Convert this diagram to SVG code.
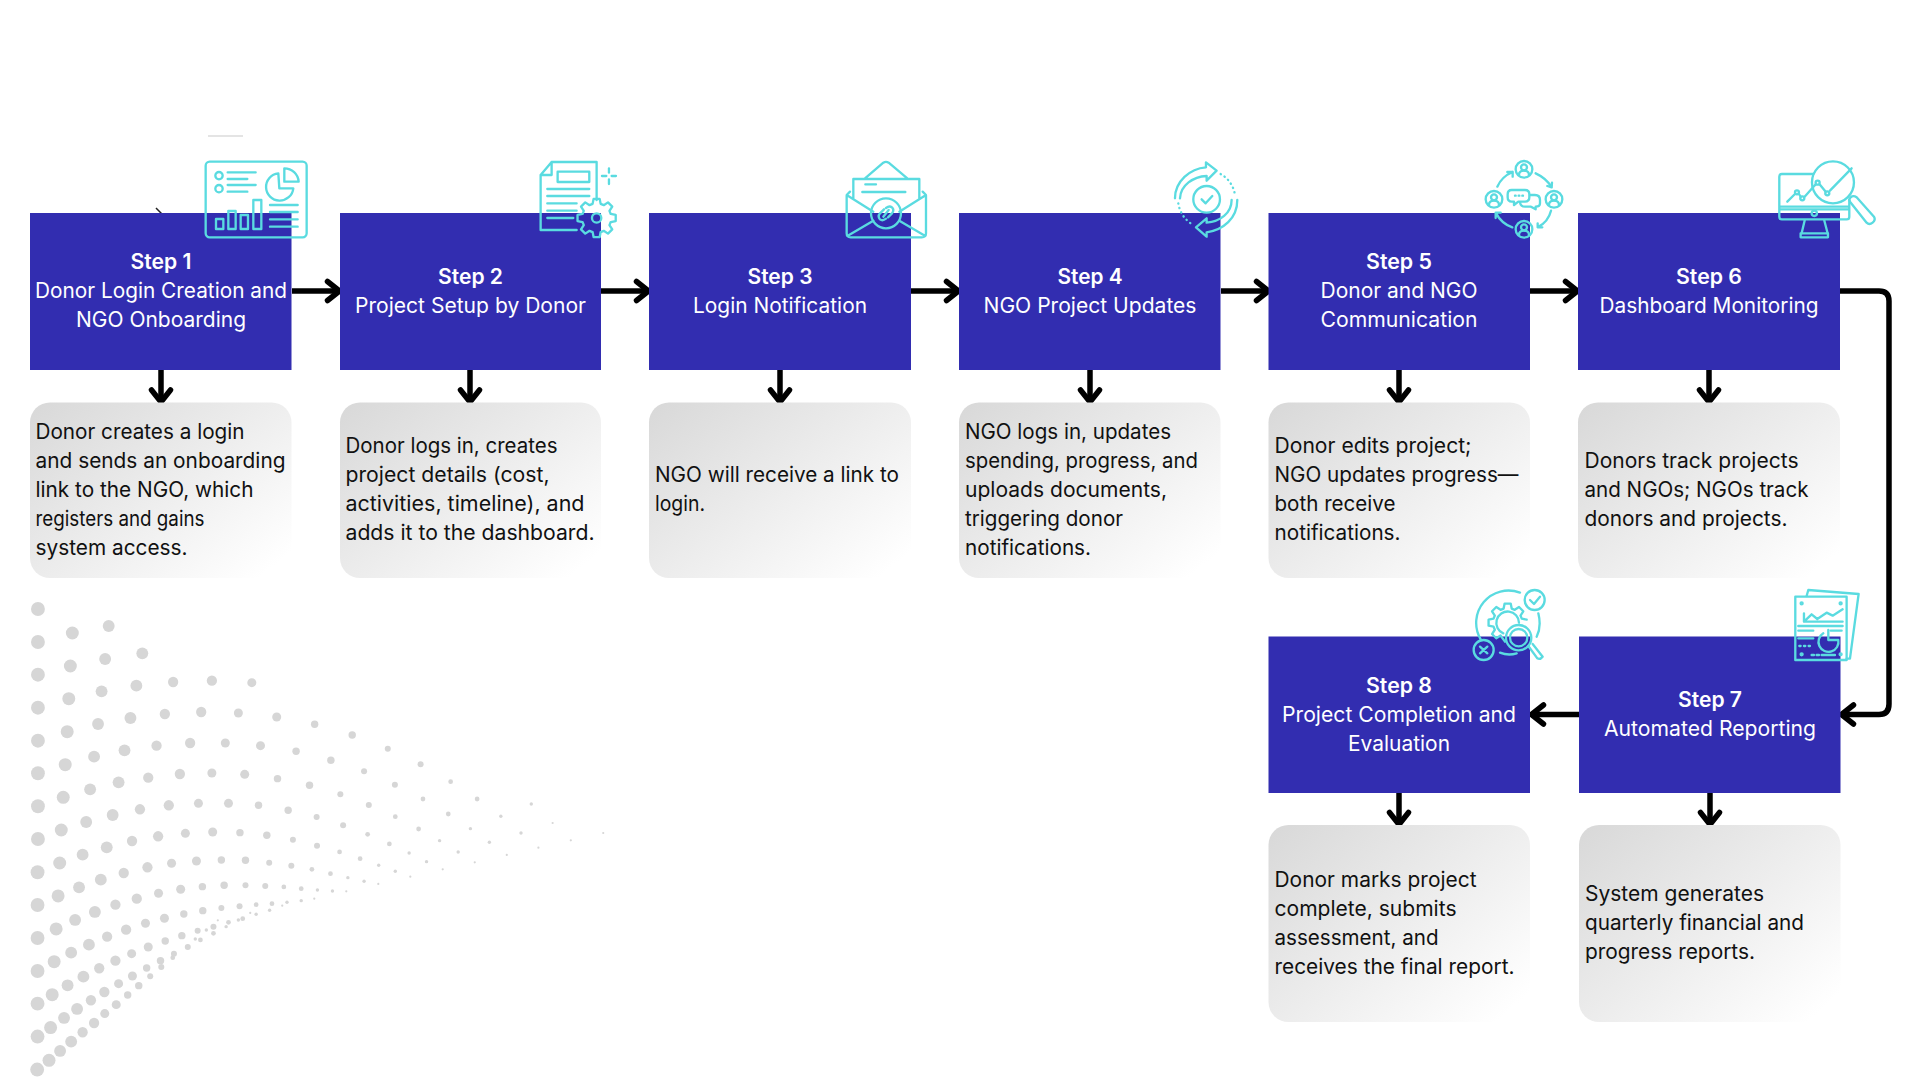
<svg xmlns="http://www.w3.org/2000/svg" width="1920" height="1080" viewBox="0 0 1920 1080">
<style>
text{font-family:"Inter","Noto Sans","Liberation Sans",sans-serif;font-size:21px}
.box{fill:#322db0}
.card{fill:url(#cardg)}
.tt{fill:#fff;text-anchor:middle;font-weight:400}
.tb{fill:#fff;text-anchor:middle;font-weight:600}
.d{fill:#111}
.ic{fill:none;stroke:#5adbe0;stroke-width:7;stroke-linecap:round;stroke-linejoin:round}
.con{fill:none;stroke:#000;stroke-width:5.5;stroke-linejoin:round}
.dots ellipse{fill:#d6d6d6}
.a{rx:17.5px;ry:21px}.b{rx:16.4px;ry:19.5px}.c{rx:15px;ry:17.7px}.e{rx:13px;ry:15.6px}.f{rx:11.4px;ry:13.5px}.g{rx:9.4px;ry:11.1px}.h{rx:7.6px;ry:9px}.i{rx:6px;ry:7.2px}.j{rx:4.3px;ry:5.1px}.k{rx:2.8px;ry:3.3px}
</style>
<defs>
<linearGradient id="cardg" x1="0" y1="0" x2="1" y2="0.85"><stop offset="0" stop-color="#d8d8d8"/><stop offset="1" stop-color="#ffffff"/></linearGradient>
<marker id="ah" markerUnits="userSpaceOnUse" markerWidth="20" markerHeight="28" refX="15.5" refY="12" orient="auto" overflow="visible"><path d="M3,2.5 L15,12 L3,21.5" fill="none" stroke="#000" stroke-width="5.5" stroke-linecap="round" stroke-linejoin="round"/></marker>
<path id="gear" d="M42.3,-12.1L57.3,-9.1L57.3,9.1L42.3,12.1L38.5,21.3L46.9,34.1L34.1,46.9L21.3,38.5L12.1,42.3L9.1,57.3L-9.1,57.3L-12.1,42.3L-21.3,38.5L-34.1,46.9L-46.9,34.1L-38.5,21.3L-42.3,12.1L-57.3,9.1L-57.3,-9.1L-42.3,-12.1L-38.5,-21.3L-46.9,-34.1L-34.1,-46.9L-21.3,-38.5L-12.1,-42.3L-9.1,-57.3L9.1,-57.3L12.1,-42.3L21.3,-38.5L34.1,-46.9L46.9,-34.1L38.5,-21.3Z"/>
<g id="person"><circle cx="0" cy="0" r="25"/><circle cx="0" cy="-6" r="9"/><path d="M-15,17 Q-15,4 0,4 Q15,4 15,17"/></g>
</defs>
<rect width="1920" height="1080" fill="#fff"/>

<g id="dots" class="dots" transform="translate(0,590) scale(.3953,.3333)">
<ellipse class="a" cx="96" cy="57"/><ellipse class="a" cx="96" cy="156"/><ellipse class="a" cx="96" cy="254"/><ellipse class="a" cx="96" cy="353"/><ellipse class="a" cx="96" cy="452"/><ellipse class="a" cx="96" cy="550"/><ellipse class="a" cx="96" cy="649"/><ellipse class="a" cx="96" cy="747"/><ellipse class="a" cx="95" cy="847"/><ellipse class="a" cx="95" cy="945"/><ellipse class="a" cx="95" cy="1044"/><ellipse class="a" cx="95" cy="1143"/><ellipse class="a" cx="95" cy="1241"/><ellipse class="a" cx="95" cy="1340"/><ellipse class="a" cx="94" cy="1439"/>
<ellipse class="b" cx="183" cy="129"/><ellipse class="b" cx="178" cy="228"/><ellipse class="b" cx="174" cy="326"/><ellipse class="b" cx="170" cy="425"/><ellipse class="b" cx="165" cy="524"/><ellipse class="b" cx="160" cy="622"/><ellipse class="b" cx="155" cy="720"/><ellipse class="b" cx="151" cy="819"/><ellipse class="b" cx="147" cy="918"/><ellipse class="b" cx="142" cy="1017"/><ellipse class="b" cx="137" cy="1115"/><ellipse class="b" cx="132" cy="1214"/><ellipse class="b" cx="128" cy="1313"/><ellipse class="b" cx="124" cy="1411"/>
<ellipse class="c" cx="275" cy="108"/><ellipse class="c" cx="266" cy="207"/><ellipse class="c" cx="257" cy="304"/><ellipse class="c" cx="248" cy="402"/><ellipse class="c" cx="238" cy="500"/><ellipse class="c" cx="228" cy="598"/><ellipse class="c" cx="218" cy="696"/><ellipse class="c" cx="209" cy="794"/><ellipse class="c" cx="200" cy="892"/><ellipse class="c" cx="190" cy="990"/><ellipse class="c" cx="180" cy="1088"/><ellipse class="c" cx="171" cy="1186"/><ellipse class="c" cx="162" cy="1284"/><ellipse class="c" cx="152" cy="1383"/>
<ellipse class="c" cx="360" cy="190"/><ellipse class="c" cx="345" cy="287"/><ellipse class="c" cx="330" cy="384"/><ellipse class="c" cx="315" cy="481"/><ellipse class="c" cx="300" cy="577"/><ellipse class="c" cx="285" cy="675"/><ellipse class="c" cx="270" cy="772"/><ellipse class="c" cx="255" cy="869"/><ellipse class="c" cx="240" cy="966"/><ellipse class="c" cx="225" cy="1064"/><ellipse class="c" cx="211" cy="1160"/><ellipse class="c" cx="195" cy="1257"/><ellipse class="c" cx="180" cy="1355"/>
<ellipse class="e" cx="438" cy="276"/><ellipse class="e" cx="417" cy="372"/><ellipse class="e" cx="396" cy="467"/><ellipse class="e" cx="375" cy="563"/><ellipse class="e" cx="354" cy="658"/><ellipse class="e" cx="334" cy="753"/><ellipse class="e" cx="313" cy="849"/><ellipse class="e" cx="292" cy="944"/><ellipse class="e" cx="271" cy="1040"/><ellipse class="e" cx="251" cy="1135"/><ellipse class="e" cx="230" cy="1231"/><ellipse class="e" cx="209" cy="1327"/>
<ellipse class="e" cx="536" cy="272"/><ellipse class="e" cx="509" cy="366"/><ellipse class="e" cx="481" cy="459"/><ellipse class="e" cx="455" cy="552"/><ellipse class="e" cx="427" cy="646"/><ellipse class="e" cx="400" cy="739"/><ellipse class="e" cx="373" cy="832"/><ellipse class="e" cx="346" cy="926"/><ellipse class="e" cx="319" cy="1019"/><ellipse class="e" cx="292" cy="1112"/><ellipse class="e" cx="264" cy="1206"/><ellipse class="e" cx="238" cy="1299"/>
<ellipse class="f" cx="637" cy="278"/><ellipse class="f" cx="603" cy="369"/><ellipse class="f" cx="570" cy="459"/><ellipse class="f" cx="536" cy="549"/><ellipse class="f" cx="502" cy="640"/><ellipse class="f" cx="469" cy="730"/><ellipse class="f" cx="434" cy="820"/><ellipse class="f" cx="401" cy="910"/><ellipse class="f" cx="368" cy="1000"/><ellipse class="f" cx="333" cy="1091"/><ellipse class="f" cx="300" cy="1181"/><ellipse class="f" cx="265" cy="1271"/>
<ellipse class="f" cx="700" cy="381"/><ellipse class="f" cx="659" cy="467"/><ellipse class="f" cx="619" cy="553"/><ellipse class="f" cx="578" cy="640"/><ellipse class="f" cx="538" cy="726"/><ellipse class="f" cx="497" cy="813"/><ellipse class="f" cx="457" cy="898"/><ellipse class="f" cx="416" cy="985"/><ellipse class="f" cx="375" cy="1071"/><ellipse class="f" cx="335" cy="1158"/><ellipse class="f" cx="294" cy="1244"/>
<ellipse class="g" cx="796" cy="403"/><ellipse class="g" cx="749" cy="484"/><ellipse class="g" cx="702" cy="566"/><ellipse class="g" cx="654" cy="646"/><ellipse class="g" cx="607" cy="728"/><ellipse class="g" cx="560" cy="810"/><ellipse class="g" cx="512" cy="890"/><ellipse class="g" cx="465" cy="972"/><ellipse class="g" cx="418" cy="1053"/><ellipse class="g" cx="371" cy="1134"/><ellipse class="g" cx="323" cy="1215"/>
<ellipse class="g" cx="891" cy="435"/><ellipse class="g" cx="837" cy="511"/><ellipse class="g" cx="783" cy="586"/><ellipse class="g" cx="729" cy="661"/><ellipse class="g" cx="675" cy="736"/><ellipse class="g" cx="621" cy="811"/><ellipse class="g" cx="567" cy="886"/><ellipse class="g" cx="513" cy="962"/><ellipse class="g" cx="460" cy="1037"/><ellipse class="g" cx="406" cy="1112"/><ellipse class="g" cx="351" cy="1187"/>
<ellipse class="h" cx="981" cy="476"/><ellipse class="h" cx="921" cy="544"/><ellipse class="h" cx="861" cy="613"/><ellipse class="h" cx="801" cy="681"/><ellipse class="h" cx="741" cy="749"/><ellipse class="h" cx="681" cy="818"/><ellipse class="h" cx="621" cy="886"/><ellipse class="h" cx="560" cy="954"/><ellipse class="h" cx="500" cy="1022"/><ellipse class="h" cx="440" cy="1091"/><ellipse class="h" cx="380" cy="1159"/>
<ellipse class="h" cx="1064" cy="523"/><ellipse class="h" cx="999" cy="584"/><ellipse class="h" cx="933" cy="645"/><ellipse class="h" cx="868" cy="706"/><ellipse class="h" cx="802" cy="767"/><ellipse class="h" cx="737" cy="827"/><ellipse class="h" cx="671" cy="888"/><ellipse class="h" cx="606" cy="949"/><ellipse class="h" cx="540" cy="1010"/><ellipse class="h" cx="475" cy="1071"/><ellipse class="h" cx="408" cy="1131"/>
<ellipse class="i" cx="1140" cy="575"/><ellipse class="i" cx="1070" cy="627"/><ellipse class="i" cx="1000" cy="680"/><ellipse class="i" cx="930" cy="733"/><ellipse class="i" cx="859" cy="786"/><ellipse class="i" cx="789" cy="838"/><ellipse class="i" cx="718" cy="891"/><ellipse class="i" cx="648" cy="944"/><ellipse class="i" cx="578" cy="997"/><ellipse class="i" cx="507" cy="1050"/><ellipse class="i" cx="437" cy="1103"/>
<ellipse class="i" cx="1207" cy="627"/><ellipse class="i" cx="1134" cy="672"/><ellipse class="i" cx="1059" cy="717"/><ellipse class="i" cx="985" cy="762"/><ellipse class="i" cx="911" cy="806"/><ellipse class="i" cx="836" cy="851"/><ellipse class="i" cx="762" cy="896"/><ellipse class="i" cx="688" cy="941"/><ellipse class="i" cx="614" cy="986"/><ellipse class="i" cx="540" cy="1030"/>
<ellipse class="j" cx="1267" cy="679"/><ellipse class="j" cx="1190" cy="716"/><ellipse class="j" cx="1112" cy="752"/><ellipse class="j" cx="1035" cy="789"/><ellipse class="j" cx="958" cy="826"/><ellipse class="j" cx="880" cy="863"/><ellipse class="j" cx="803" cy="900"/><ellipse class="j" cx="726" cy="937"/><ellipse class="j" cx="648" cy="973"/><ellipse class="j" cx="572" cy="1010"/><ellipse class="j" cx="494" cy="1047"/>
<ellipse class="j" cx="1344" cy="642"/><ellipse class="j" cx="1318" cy="729"/><ellipse class="j" cx="1238" cy="757"/><ellipse class="j" cx="1159" cy="786"/><ellipse class="j" cx="1079" cy="815"/><ellipse class="j" cx="1000" cy="844"/><ellipse class="j" cx="921" cy="874"/><ellipse class="j" cx="841" cy="903"/><ellipse class="j" cx="762" cy="932"/><ellipse class="j" cx="682" cy="961"/><ellipse class="j" cx="603" cy="990"/><ellipse class="j" cx="522" cy="1020"/>
<ellipse class="k" cx="1398" cy="699"/><ellipse class="k" cx="1282" cy="795"/><ellipse class="k" cx="1201" cy="817"/><ellipse class="k" cx="1120" cy="838"/><ellipse class="k" cx="1038" cy="860"/><ellipse class="k" cx="957" cy="882"/><ellipse class="k" cx="876" cy="904"/><ellipse class="k" cx="795" cy="926"/><ellipse class="k" cx="714" cy="947"/><ellipse class="k" cx="633" cy="969"/><ellipse class="k" cx="551" cy="991"/><ellipse class="k" cx="1526" cy="729"/><ellipse class="k" cx="1444" cy="751"/><ellipse class="k" cx="1362" cy="773"/>
</g>

<g id="marks"><path d="M208,136 H243" stroke="#c9c9c9" stroke-width="1" fill="none"/><path d="M156,208 L162,214" stroke="#222" stroke-width="1.5" fill="none"/></g>

<g id="connectors" class="con">
<path d="M292,291 H340" marker-end="url(#ah)"/><path d="M601,291 H649" marker-end="url(#ah)"/><path d="M911,291 H959" marker-end="url(#ah)"/><path d="M1221,291 H1269" marker-end="url(#ah)"/><path d="M1530,291 H1578" marker-end="url(#ah)"/>
<path d="M161,370 V402.500" marker-end="url(#ah)"/><path d="M470,370 V402.500" marker-end="url(#ah)"/><path d="M780,370 V402.500" marker-end="url(#ah)"/><path d="M1090,370 V402.500" marker-end="url(#ah)"/><path d="M1399,370 V402.500" marker-end="url(#ah)"/><path d="M1709,370 V402.500" marker-end="url(#ah)"/>
<path d="M1840,291 H1879 Q1889,291 1889,301 V704 Q1889,714.500 1879,714.500 H1841" marker-end="url(#ah)"/>
<path d="M1579,714.500 H1531" marker-end="url(#ah)"/>
<path d="M1399,793 V825" marker-end="url(#ah)"/><path d="M1710,793 V825" marker-end="url(#ah)"/>
</g>

<g id="step1">
<rect class="box" x="30" y="213" width="261.500" height="157"/>
<text class="tb" x="161" y="269" textLength="61" lengthAdjust="spacingAndGlyphs">Step 1</text>
<text class="tt" x="161" y="298" textLength="252" lengthAdjust="spacingAndGlyphs">Donor Login Creation and</text>
<text class="tt" x="161" y="327" textLength="170" lengthAdjust="spacingAndGlyphs">NGO Onboarding</text>
<rect class="card" x="30" y="402.500" width="261.500" height="175.500" rx="20"/>
<text class="d" x="35.500" y="439" textLength="209" lengthAdjust="spacingAndGlyphs">Donor creates a login</text>
<text class="d" x="35.500" y="468" textLength="250" lengthAdjust="spacingAndGlyphs">and sends an onboarding</text>
<text class="d" x="35.500" y="497" textLength="218" lengthAdjust="spacingAndGlyphs">link to the NGO, which</text>
<text class="d" x="35.500" y="526" textLength="169" lengthAdjust="spacingAndGlyphs">registers and gains</text>
<text class="d" x="35.500" y="555" textLength="152" lengthAdjust="spacingAndGlyphs">system access.</text>
<g class="ic" transform="translate(190,150) scale(.3333)">
<rect x="47" y="35" width="303" height="227" rx="12"/><circle cx="87" cy="77" r="11"/><circle cx="87" cy="116" r="11"/>
<path d="M113,67H197M113,87H172M113,105H197M113,125H172M240,165H323M240,186H323M240,208H323M240,230H323"/>
<path d="M265,70A41,41 0 1 0 310,115L268,115Z"/><path d="M283,55A43,43 0 0 1 326,95L283,95Z"/>
<rect x="78" y="207" width="22" height="30"/><rect x="115" y="183" width="22" height="54"/><rect x="152" y="195" width="22" height="42"/><rect x="190" y="150" width="24" height="87"/>
</g>
</g>

<g id="step2">
<rect class="box" x="340" y="213" width="261" height="157"/>
<text class="tb" x="470.500" y="284" textLength="65" lengthAdjust="spacingAndGlyphs">Step 2</text>
<text class="tt" x="470.500" y="313" textLength="231" lengthAdjust="spacingAndGlyphs">Project Setup by Donor</text>
<rect class="card" x="340" y="402.500" width="261" height="175.500" rx="20"/>
<text class="d" x="345.500" y="453" textLength="212" lengthAdjust="spacingAndGlyphs">Donor logs in, creates</text>
<text class="d" x="345.500" y="482" textLength="204" lengthAdjust="spacingAndGlyphs">project details (cost,</text>
<text class="d" x="345.500" y="511" textLength="239" lengthAdjust="spacingAndGlyphs">activities, timeline), and</text>
<text class="d" x="345.500" y="540" textLength="249" lengthAdjust="spacingAndGlyphs">adds it to the dashboard.</text>
<g class="ic" transform="translate(190,150) scale(.3333)">
<path d="M1160,240H1052V75L1085,36H1220V150M1052,75H1085V36"/><rect x="1103" y="65" width="95" height="31"/>
<path d="M1072,117H1198M1072,138H1198M1072,160H1160M1072,182H1160M1072,204H1150M1257,55V68M1257,88V102M1236,78H1249M1265,78H1278"/>
<use href="#gear" transform="translate(1220,204)"/><circle cx="1220" cy="204" r="14"/>
</g>
</g>

<g id="step3">
<rect class="box" x="649" y="213" width="262" height="157"/>
<text class="tb" x="780" y="284" textLength="65" lengthAdjust="spacingAndGlyphs">Step 3</text>
<text class="tt" x="780" y="313" textLength="174" lengthAdjust="spacingAndGlyphs">Login Notification</text>
<rect class="card" x="649" y="402.500" width="262" height="175.500" rx="20"/>
<text class="d" x="655" y="482" textLength="244" lengthAdjust="spacingAndGlyphs">NGO will receive a link to</text>
<text class="d" x="655" y="511" textLength="50" lengthAdjust="spacingAndGlyphs">login.</text>
<g class="ic" transform="translate(830,150) scale(.3333)">
<path d="M60,125L50,135V250Q50,262 62,262H275Q288,262 288,250V135L278,125M105,85L160,38Q168,33 176,38L232,85M70,147V87H268V147M50,135L130,185M288,135L208,185M52,258L130,212M286,258L208,212M106,103H138M97,126H226"/>
<circle cx="168" cy="190" r="45"/>
<path d="M162,178L150,190Q142,200 150,208Q158,214 168,206M174,202L186,190Q194,180 186,172Q178,166 168,174M160,200L176,180"/>
</g>
</g>

<g id="step4">
<rect class="box" x="959" y="213" width="261.500" height="157"/>
<text class="tb" x="1090" y="284" textLength="65" lengthAdjust="spacingAndGlyphs">Step 4</text>
<text class="tt" x="1090" y="313" textLength="213" lengthAdjust="spacingAndGlyphs">NGO Project Updates</text>
<rect class="card" x="959" y="402.500" width="261.500" height="175.500" rx="20"/>
<text class="d" x="965" y="439" textLength="206" lengthAdjust="spacingAndGlyphs">NGO logs in, updates</text>
<text class="d" x="965" y="468" textLength="233" lengthAdjust="spacingAndGlyphs">spending, progress, and</text>
<text class="d" x="965" y="497" textLength="202" lengthAdjust="spacingAndGlyphs">uploads documents,</text>
<text class="d" x="965" y="526" textLength="158" lengthAdjust="spacingAndGlyphs">triggering donor</text>
<text class="d" x="965" y="555" textLength="126" lengthAdjust="spacingAndGlyphs">notifications.</text>
<g class="ic" transform="translate(830,150) scale(.3333)">
<circle cx="1130" cy="148" r="40"/><path d="M1115,148L1127,160L1147,138"/>
<path d="M1035,145C1035,95 1080,55 1128,52V37L1160,62L1130,92V78C1090,80 1052,105 1050,145"/>
<path d="M1222,150C1222,205 1180,240 1130,247V260L1098,232L1130,205V218C1170,215 1205,190 1205,150"/>
<path d="M1172,72A85,85 0 0 1 1215,135M1045,160A90,90 0 0 0 1090,225" stroke-dasharray="1 13"/>
</g>
</g>

<g id="step5">
<rect class="box" x="1268.500" y="213" width="261.500" height="157"/>
<text class="tb" x="1399" y="269" textLength="66" lengthAdjust="spacingAndGlyphs">Step 5</text>
<text class="tt" x="1399" y="298" textLength="157" lengthAdjust="spacingAndGlyphs">Donor and NGO</text>
<text class="tt" x="1399" y="327" textLength="157" lengthAdjust="spacingAndGlyphs">Communication</text>
<rect class="card" x="1268.500" y="402.500" width="261.500" height="175.500" rx="20"/>
<text class="d" x="1274.500" y="453" textLength="197" lengthAdjust="spacingAndGlyphs">Donor edits project;</text>
<text class="d" x="1274.500" y="482" textLength="244" lengthAdjust="spacingAndGlyphs">NGO updates progress—</text>
<text class="d" x="1274.500" y="511" textLength="121" lengthAdjust="spacingAndGlyphs">both receive</text>
<text class="d" x="1274.500" y="540" textLength="126" lengthAdjust="spacingAndGlyphs">notifications.</text>
<g class="ic" transform="translate(1470,150) scale(.3333)">
<use href="#person" transform="translate(162,58)"/><use href="#person" transform="translate(72,148)"/><use href="#person" transform="translate(252,148)"/><use href="#person" transform="translate(162,238)"/>
<path d="M82,110Q95,80 128,66M112,66H128V80M197,70Q230,85 245,112M232,108L245,112L246,98M243,182Q235,215 203,232M217,232H203V220M127,232Q95,222 77,188M77,204V188H92"/>
<path d="M125,120H165Q178,120 178,133V142Q178,155 165,155H145L132,165V155H125Q113,155 113,142V133Q113,120 125,120ZM178,135H195Q210,135 210,150V160Q210,170 197,170L197,178L183,170H165Q152,170 150,157M135,137H137M146,137H148M157,137H159"/>
</g>
</g>

<g id="step6">
<rect class="box" x="1578" y="213" width="262" height="157"/>
<text class="tb" x="1709" y="284" textLength="66" lengthAdjust="spacingAndGlyphs">Step 6</text>
<text class="tt" x="1709" y="313" textLength="219" lengthAdjust="spacingAndGlyphs">Dashboard Monitoring</text>
<rect class="card" x="1578" y="402.500" width="262" height="175.500" rx="20"/>
<text class="d" x="1584.500" y="467.500" textLength="214" lengthAdjust="spacingAndGlyphs">Donors track projects</text>
<text class="d" x="1584.500" y="496.500" textLength="224" lengthAdjust="spacingAndGlyphs">and NGOs; NGOs track</text>
<text class="d" x="1584.500" y="525.500" textLength="203" lengthAdjust="spacingAndGlyphs">donors and projects.</text>
<g class="ic" transform="translate(1470,150) scale(.3333)">
<path d="M1030,72H936Q928,72 928,80V200Q928,208 936,208H1130Q1138,208 1138,200V150M928,170H1138M928,178H1138M1005,208L995,250M1062,208L1073,250"/>
<rect x="992" y="250" width="82" height="12"/><circle cx="1033" cy="190" r="8"/><circle cx="1089" cy="97" r="63"/>
<path d="M1142,142Q1135,148 1140,155L1190,218Q1198,226 1208,218Q1218,210 1212,200L1160,142Q1150,135 1142,142Z"/>
<path d="M952,155L975,132M987,132L992,140M1004,140L1036,104M1050,104L1066,124M1080,122L1145,55"/>
<circle cx="981" cy="127" r="6"/><circle cx="997" cy="145" r="6"/><circle cx="1043" cy="98" r="6"/><circle cx="1072" cy="130" r="6"/>
</g>
</g>

<g id="step7">
<rect class="box" x="1579" y="636.500" width="261.500" height="156.500"/>
<text class="tb" x="1710" y="707" textLength="64" lengthAdjust="spacingAndGlyphs">Step 7</text>
<text class="tt" x="1710" y="736" textLength="212" lengthAdjust="spacingAndGlyphs">Automated Reporting</text>
<rect class="card" x="1579" y="825" width="261.500" height="197" rx="20"/>
<text class="d" x="1585" y="901" textLength="179" lengthAdjust="spacingAndGlyphs">System generates</text>
<text class="d" x="1585" y="930" textLength="219" lengthAdjust="spacingAndGlyphs">quarterly financial and</text>
<text class="d" x="1585" y="959" textLength="170" lengthAdjust="spacingAndGlyphs">progress reports.</text>
<g class="ic" transform="translate(1440,570) scale(.3333)">
<rect x="1066" y="80" width="154" height="190"/>
<path d="M1100,78L1105,60L1256,72L1230,266L1220,266"/><path d="M1092,130V155H1208M1092,155L1115,133L1132,147L1160,128L1178,137L1208,118M1075,168H1208M1075,182H1120M1075,205H1120M1078,228H1082M1092,228H1096M1106,228H1110M1115,255H1122M1130,255H1137M1145,255H1185"/>
<path d="M1150,190A30,30 0 1 0 1195,210H1165V180"/><path d="M1172,182H1205"/>
<circle cx="1085" cy="100" r="3"/><circle cx="1202" cy="100" r="3"/><circle cx="1085" cy="253" r="3"/><circle cx="1202" cy="253" r="3"/>
</g>
</g>

<g id="step8">
<rect class="box" x="1268.500" y="636.500" width="261.500" height="156.500"/>
<text class="tb" x="1399" y="693" textLength="66" lengthAdjust="spacingAndGlyphs">Step 8</text>
<text class="tt" x="1399" y="722" textLength="234" lengthAdjust="spacingAndGlyphs">Project Completion and</text>
<text class="tt" x="1399" y="751" textLength="102" lengthAdjust="spacingAndGlyphs">Evaluation</text>
<rect class="card" x="1268.500" y="825" width="261.500" height="197" rx="20"/>
<text class="d" x="1274.500" y="887" textLength="202" lengthAdjust="spacingAndGlyphs">Donor marks project</text>
<text class="d" x="1274.500" y="916" textLength="182" lengthAdjust="spacingAndGlyphs">complete, submits</text>
<text class="d" x="1274.500" y="945" textLength="164" lengthAdjust="spacingAndGlyphs">assessment, and</text>
<text class="d" x="1274.500" y="974" textLength="240" lengthAdjust="spacingAndGlyphs">receives the final report.</text>
<g class="ic" transform="translate(1440,570) scale(.3333)">
<path d="M240,68A97,97 0 0 0 122,208M180,248Q205,258 230,250M295,130Q305,170 290,200"/>
<circle cx="284" cy="90" r="30"/><path d="M270,90L282,102L300,80"/>
<circle cx="131" cy="240" r="30"/><path d="M120,230L142,250M142,230L120,250"/>
<path d="M195,215L181.700,196.500L168.900,204.900L156.100,192.100L164.500,179.300L160.700,170.100L145.700,167.100L145.700,148.900L160.700,145.900L164.500,136.700L156.100,123.900L168.900,111.100L181.700,119.500L190.900,115.700L193.900,100.700L212.100,100.700L215.100,115.700L224.300,119.500L237.100,111.100L249.900,123.900L241.500,136.700L245.300,145.900L260,149"/>
<path d="M190,190A34,34 0 1 1 237,158"/>
<circle cx="236" cy="203" r="38"/><circle cx="236" cy="203" r="26"/>
<path d="M265,228L292,265Q300,270 308,260L278,222"/>
</g>
</g>
</svg>
